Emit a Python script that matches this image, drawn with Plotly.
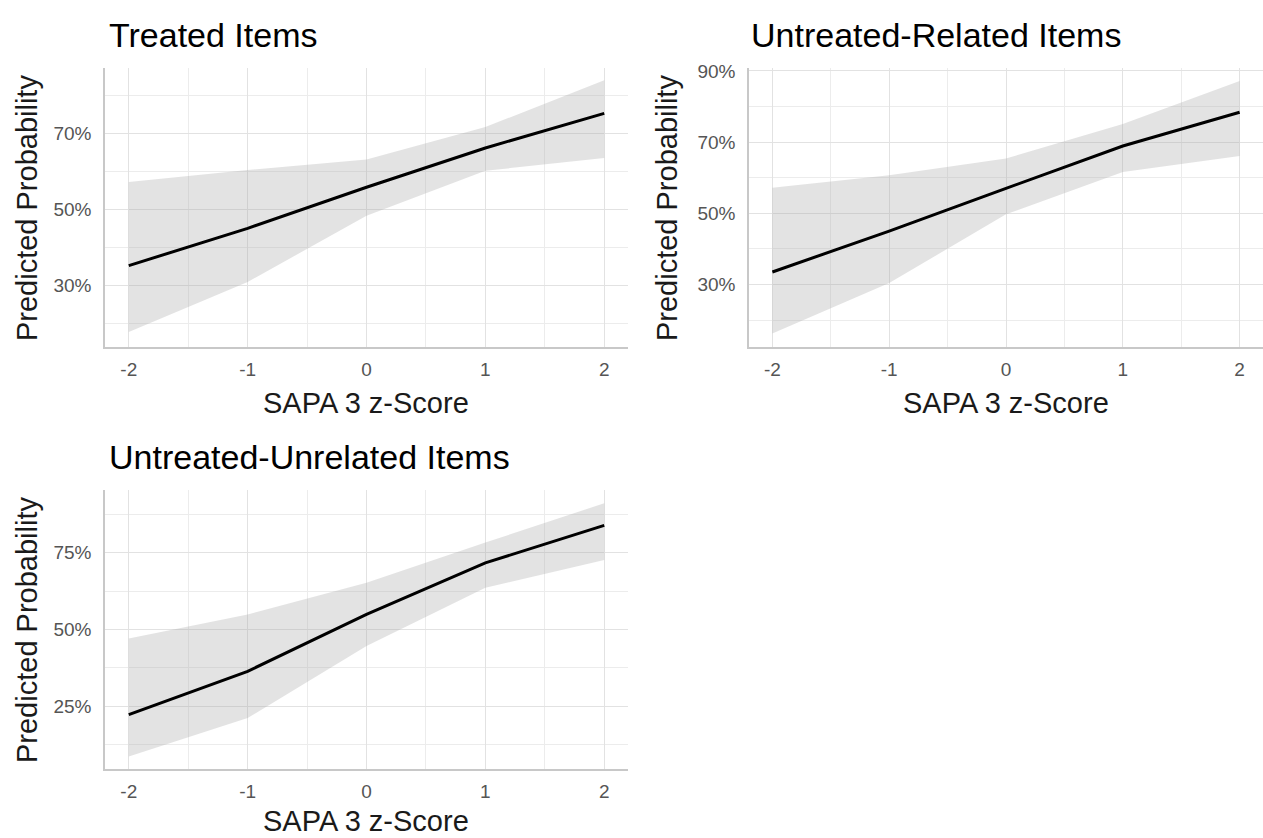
import plotly.graph_objects as go

# ---------------- data ----------------
z_scores = [-2, -1, 0, 1, 2]

treated_fit = [0.352, 0.450, 0.558, 0.661, 0.752]
treated_lo = [0.178, 0.309, 0.483, 0.601, 0.635]
treated_hi = [0.572, 0.603, 0.631, 0.716, 0.839]

related_fit = [0.335, 0.450, 0.570, 0.689, 0.784]
related_lo = [0.162, 0.304, 0.497, 0.616, 0.661]
related_hi = [0.572, 0.607, 0.654, 0.751, 0.872]

unrelated_fit = [0.223, 0.364, 0.549, 0.717, 0.839]
unrelated_lo = [0.087, 0.212, 0.446, 0.636, 0.726]
unrelated_hi = [0.471, 0.549, 0.652, 0.783, 0.911]

titles = ["Treated Items", "Untreated-Related Items", "Untreated-Unrelated Items"]
x_title = "SAPA 3 z-Score"
y_title = "Predicted Probability"

x_ticks = [-2, -1, 0, 1, 2]
x_minor = [-1.5, -0.5, 0.5, 1.5]
y_ticks_1 = [0.3, 0.5, 0.7]
y_minor_1 = [0.2, 0.4, 0.6, 0.8]
y_ticks_2 = [0.3, 0.5, 0.7, 0.9]
y_minor_2 = [0.2, 0.4, 0.6, 0.8]
y_ticks_3 = [0.25, 0.5, 0.75]
y_minor_3 = [0.125, 0.375, 0.625, 0.875]

# ---------------- layout constants ----------------
W, H = 1263, 838
FONT = "Liberation Sans, Arial, Helvetica, sans-serif"
GRID = "#e2e2e2"
GRID_MINOR = "#ececec"
AXLINE = "#c8c8c8"
TICKCOL = "#555555"
RIBBON = "rgba(170,170,170,0.33)"


def px_x(p):
    return p / W


def px_y(p):
    return 1 - p / H


panels = [
    dict(fit=treated_fit, lo=treated_lo, hi=treated_hi, title=titles[0],
         xdom=[px_x(105), px_x(628)], ydom=[px_y(342), px_y(61)],
         yrange=[0.139, 0.870], yt=y_ticks_1, ym=y_minor_1,
         title_xy=(107, 27), ytitle_xy=(27, 202), xtitle_xy=(366, 399)),
    dict(fit=related_fit, lo=related_lo, hi=related_hi, title=titles[1],
         xdom=[px_x(749), 1.0], ydom=[px_y(342), px_y(61)],
         yrange=[0.125, 0.907], yt=y_ticks_2, ym=y_minor_2,
         title_xy=(749, 27), ytitle_xy=(667, 202), xtitle_xy=(1006, 399)),
    dict(fit=unrelated_fit, lo=unrelated_lo, hi=unrelated_hi, title=titles[2],
         xdom=[px_x(105), px_x(628)], ydom=[px_y(768), px_y(487)],
         yrange=[0.047, 0.953], yt=y_ticks_3, ym=y_minor_3,
         title_xy=(107, 453), ytitle_xy=(27, 628), xtitle_xy=(366, None)),
]

fig = go.Figure()
annotations = []
layout_axes = {}

for i, p in enumerate(panels, start=1):
    xa = "x" if i == 1 else f"x{i}"
    ya = "y" if i == 1 else f"y{i}"
    # ribbon
    fig.add_trace(go.Scatter(x=z_scores, y=p["hi"], mode="lines",
                             line=dict(width=0, color=RIBBON), xaxis=xa, yaxis=ya,
                             showlegend=False, hoverinfo="skip"))
    fig.add_trace(go.Scatter(x=z_scores, y=p["lo"], mode="lines",
                             line=dict(width=0, color=RIBBON), fill="tonexty",
                             fillcolor=RIBBON, xaxis=xa, yaxis=ya,
                             showlegend=False, hoverinfo="skip"))
    # line
    fig.add_trace(go.Scatter(x=z_scores, y=p["fit"], mode="lines",
                             line=dict(width=3, color="black"), xaxis=xa, yaxis=ya,
                             showlegend=False))

    xkey = "xaxis" if i == 1 else f"xaxis{i}"
    ykey = "yaxis" if i == 1 else f"yaxis{i}"
    layout_axes[xkey] = dict(
        domain=p["xdom"], range=[-2.2, 2.2], anchor=ya,
        tickmode="array", tickvals=x_ticks, ticktext=[str(v) for v in x_ticks],
        showgrid=True, gridcolor=GRID, gridwidth=1,
        minor=dict(tickmode="array", tickvals=x_minor, showgrid=True,
                   gridcolor=GRID_MINOR, gridwidth=1),
        showline=True, linecolor=AXLINE, linewidth=1.5,
        zeroline=False, ticks="outside", ticklen=5, tickcolor="rgba(0,0,0,0)",
        tickfont=dict(family=FONT, size=19, color=TICKCOL),
        fixedrange=True,
    )
    layout_axes[ykey] = dict(
        domain=p["ydom"], range=p["yrange"], anchor=xa,
        tickmode="array", tickvals=p["yt"],
        ticktext=[f"{round(v * 100)}%" for v in p["yt"]],
        showgrid=True, gridcolor=GRID, gridwidth=1,
        minor=dict(tickmode="array", tickvals=p["ym"], showgrid=True,
                   gridcolor=GRID_MINOR, gridwidth=1),
        showline=True, linecolor=AXLINE, linewidth=1.5,
        zeroline=False, ticks="outside", ticklen=8, tickcolor="rgba(0,0,0,0)",
        tickfont=dict(family=FONT, size=19, color=TICKCOL),
        fixedrange=True,
    )

    tx, ty = p["title_xy"]
    annotations.append(dict(text=p["title"], xref="paper", yref="paper",
                            x=px_x(tx), y=px_y(ty), xanchor="left", yanchor="middle",
                            showarrow=False, font=dict(family=FONT, size=34, color="black")))
    yx, yy = p["ytitle_xy"]
    annotations.append(dict(text=y_title, xref="paper", yref="paper",
                            x=px_x(yx), y=px_y(yy), xanchor="center", yanchor="middle",
                            textangle=-90, showarrow=False,
                            font=dict(family=FONT, size=29, color="#1a1a1a")))
    xx, xy = p["xtitle_xy"]
    if xy is None:
        annotations.append(dict(text=x_title, xref="paper", yref="paper",
                                x=px_x(xx), y=0, xanchor="center", yanchor="bottom",
                                borderpad=0, showarrow=False,
                                font=dict(family=FONT, size=29, color="#1a1a1a")))
    else:
        annotations.append(dict(text=x_title, xref="paper", yref="paper",
                                x=px_x(xx), y=px_y(xy), xanchor="center", yanchor="middle",
                                showarrow=False,
                                font=dict(family=FONT, size=29, color="#1a1a1a")))

fig.update_layout(
    width=W, height=H, margin=dict(l=0, r=0, t=0, b=0),
    paper_bgcolor="white", plot_bgcolor="white",
    annotations=annotations, showlegend=False,
    **layout_axes,
)

fig.write_html("out.html", config={"displayModeBar": False})
